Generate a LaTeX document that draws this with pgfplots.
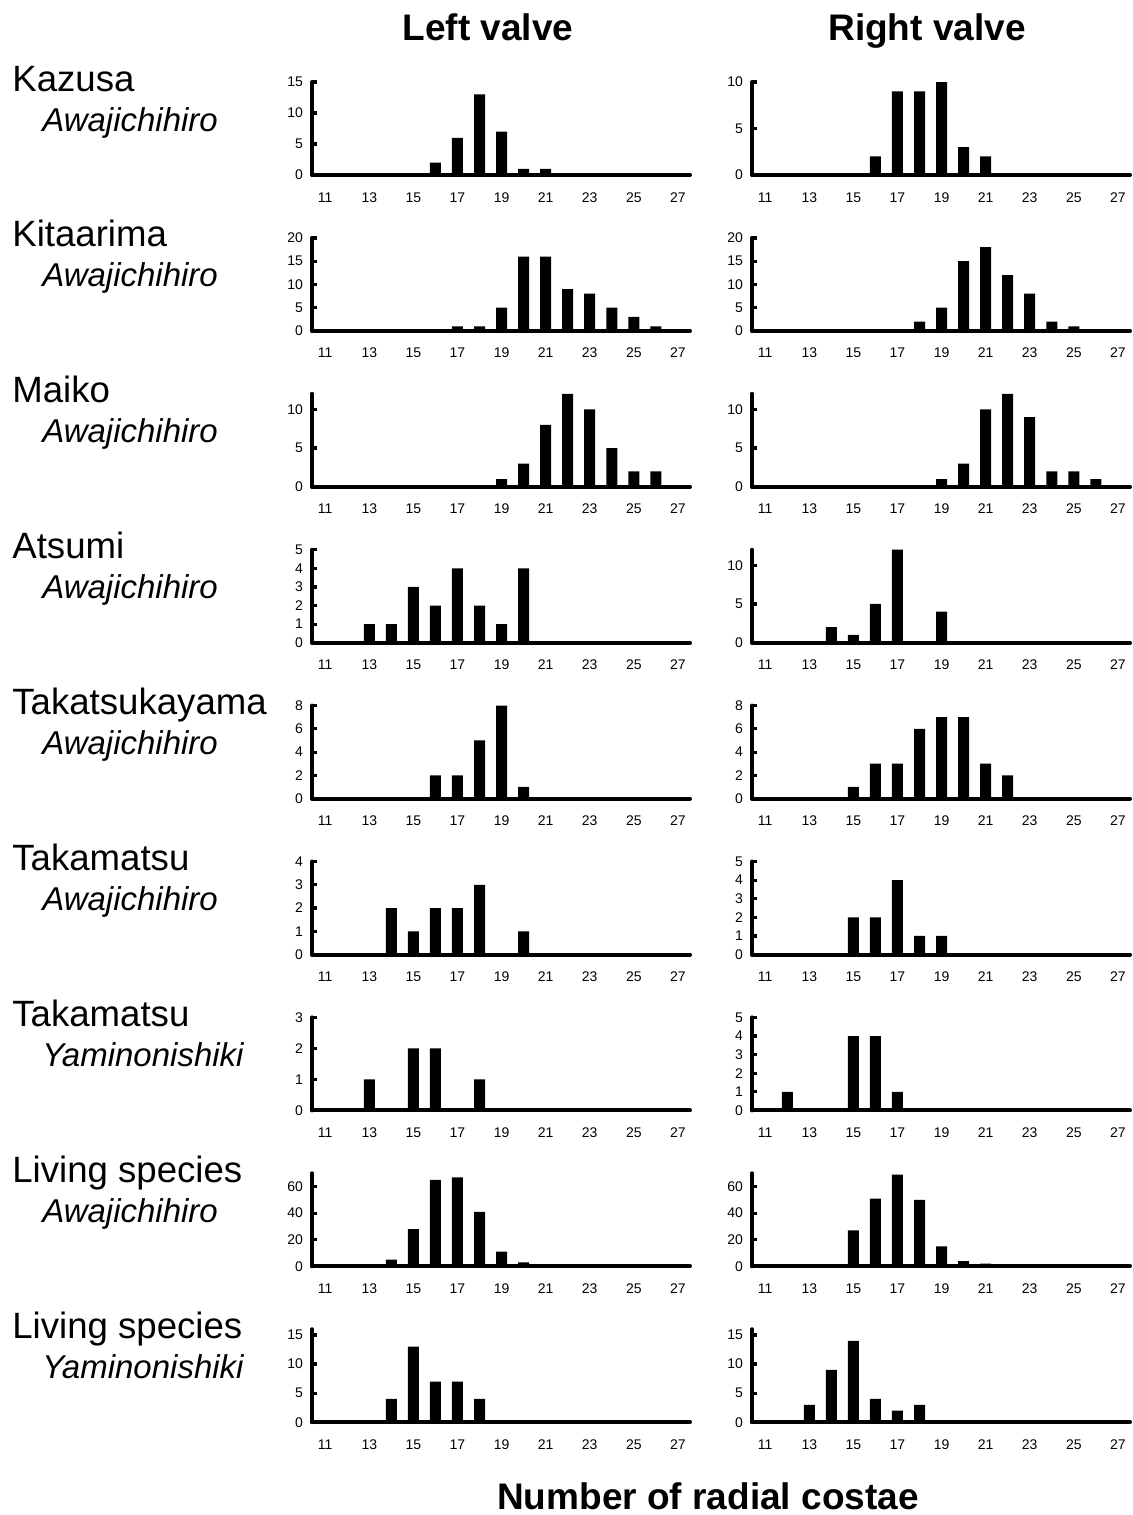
\documentclass[border=0pt]{standalone}
\usepackage{pgfplots}
\pgfplotsset{compat=1.18}
\usepackage{fontspec}
\setmainfont{Liberation Sans}
\pgfplotsset{panel/.style={
  anchor=south west,
  scale only axis, width=189pt, height=46.5pt,
  xmin=10.4, xmax=27.55, ymin=0,
  axis lines=left,
  axis line style={-, line width=2pt, line cap=round},
  xtick={11,13,...,27},
  xtick style={draw=none},
  ytick style={line width=1.6pt, black},
  major tick length=2.5pt, tick align=inside,
  /pgf/number format/assume math mode=true,
  tick label style={font=\fontsize{7}{8}\selectfont},
  xticklabel style={yshift=-2.5pt, text height=5pt, text depth=0pt},
  yticklabel style={xshift=-1pt},
  ybar, bar width=0.5,
  clip=false,
}}
\newcommand{\panel}[5]{%
  \begin{axis}[panel, at={(#1,#2)}, ymax=#3, ytick={#4}]
  \addplot[fill=black, draw=none] coordinates {#5};
  \end{axis}}
\newcommand{\rowlabel}[3]{%
  \node[anchor=base west, inner sep=0pt, font=\fontsize{18.3}{20}\selectfont] at (6pt,#1+42pt) {#2};
  \node[anchor=base west, inner sep=0pt, font=\fontsize{16.5}{18}\selectfont\itshape] at (21pt,#1+22pt) {#3};}
\begin{document}
\begin{tikzpicture}
\useasboundingbox (0,0) rectangle (566.5pt,-757.5pt);
\node[anchor=base, inner sep=0pt, font=\fontsize{18.5}{20}\selectfont\bfseries] at (244pt,-20pt) {Left valve};
\node[anchor=base, inner sep=0pt, font=\fontsize{18.5}{20}\selectfont\bfseries] at (463.5pt,-20pt) {Right valve};
\node[anchor=base, inner sep=0pt, font=\fontsize{18.5}{20}\selectfont\bfseries] at (354pt,-754.5pt) {Number of radial costae};
% Row 1
\rowlabel{-87.5pt}{Kazusa}{Awajichihiro}
\panel{156pt}{-87.5pt}{15}{0,5,10,15}{(16,2) (17,6) (18,13) (19,7) (20,1) (21,1)}
\panel{376pt}{-87.5pt}{10}{0,5,10}{(16,2) (17,9) (18,9) (19,10) (20,3) (21,2)}
% Row 2
\rowlabel{-165.45pt}{Kitaarima}{Awajichihiro}
\panel{156pt}{-165.45pt}{20}{0,5,10,15,20}{(17,1) (18,1) (19,5) (20,16) (21,16) (22,9) (23,8) (24,5) (25,3) (26,1)}
\panel{376pt}{-165.45pt}{20}{0,5,10,15,20}{(18,2) (19,5) (20,15) (21,18) (22,12) (23,8) (24,2) (25,1)}
% Row 3
\rowlabel{-243.4pt}{Maiko}{Awajichihiro}
\panel{156pt}{-243.4pt}{12}{0,5,10}{(19,1) (20,3) (21,8) (22,12) (23,10) (24,5) (25,2) (26,2)}
\panel{376pt}{-243.4pt}{12}{0,5,10}{(19,1) (20,3) (21,10) (22,12) (23,9) (24,2) (25,2) (26,1)}
% Row 4
\rowlabel{-321.35pt}{Atsumi}{Awajichihiro}
\panel{156pt}{-321.35pt}{5}{0,1,2,3,4,5}{(13,1) (14,1) (15,3) (16,2) (17,4) (18,2) (19,1) (20,4)}
\panel{376pt}{-321.35pt}{12}{0,5,10}{(14,2) (15,1) (16,5) (17,12) (19,4)}
% Row 5
\rowlabel{-399.3pt}{Takatsukayama}{Awajichihiro}
\panel{156pt}{-399.3pt}{8}{0,2,4,6,8}{(16,2) (17,2) (18,5) (19,8) (20,1)}
\panel{376pt}{-399.3pt}{8}{0,2,4,6,8}{(15,1) (16,3) (17,3) (18,6) (19,7) (20,7) (21,3) (22,2)}
% Row 6
\rowlabel{-477.25pt}{Takamatsu}{Awajichihiro}
\panel{156pt}{-477.25pt}{4}{0,1,2,3,4}{(14,2) (15,1) (16,2) (17,2) (18,3) (20,1)}
\panel{376pt}{-477.25pt}{5}{0,1,2,3,4,5}{(15,2) (16,2) (17,4) (18,1) (19,1)}
% Row 7
\rowlabel{-555.2pt}{Takamatsu}{Yaminonishiki}
\panel{156pt}{-555.2pt}{3}{0,1,2,3}{(13,1) (15,2) (16,2) (18,1)}
\panel{376pt}{-555.2pt}{5}{0,1,2,3,4,5}{(12,1) (15,4) (16,4) (17,1)}
% Row 8
\rowlabel{-633.15pt}{Living species}{Awajichihiro}
\panel{156pt}{-633.15pt}{70}{0,20,40,60}{(14,5) (15,28) (16,65) (17,67) (18,41) (19,11) (20,3)}
\panel{376pt}{-633.15pt}{70}{0,20,40,60}{(15,27) (16,51) (17,69) (18,50) (19,15) (20,4) (21,2)}
% Row 9
\rowlabel{-711.1pt}{Living species}{Yaminonishiki}
\panel{156pt}{-711.1pt}{16}{0,5,10,15}{(14,4) (15,13) (16,7) (17,7) (18,4)}
\panel{376pt}{-711.1pt}{16}{0,5,10,15}{(13,3) (14,9) (15,14) (16,4) (17,2) (18,3)}
\end{tikzpicture}
\end{document}
